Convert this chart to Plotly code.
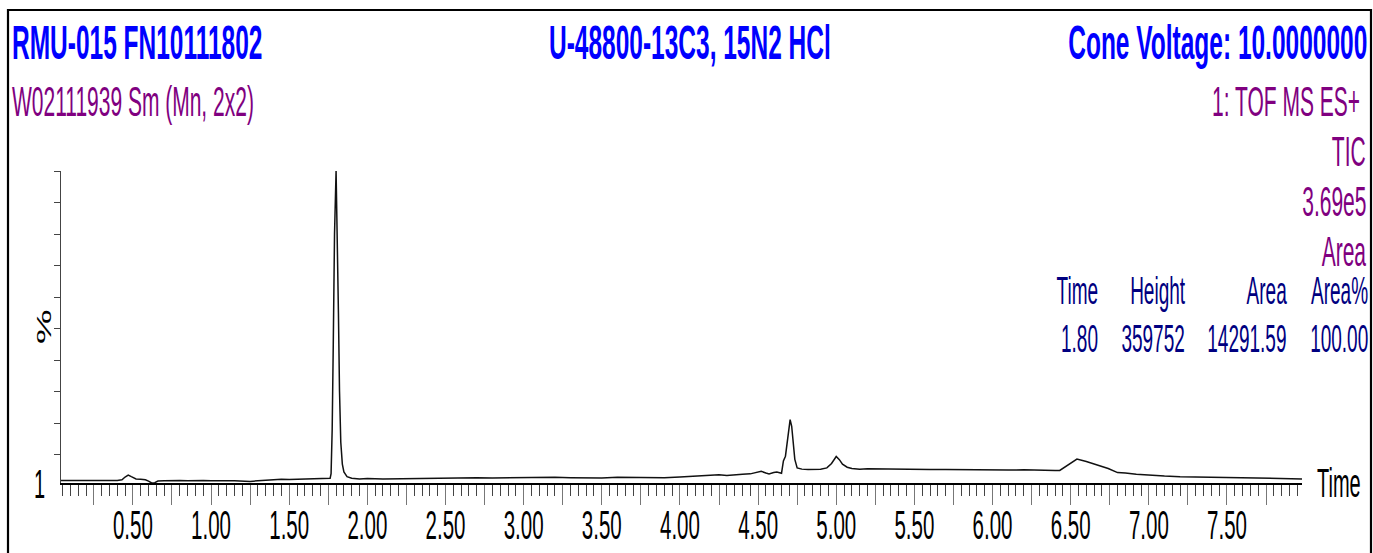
import plotly.graph_objects as go

# ---- chromatogram data (retention time in minutes, relative intensity in %) ----
time_min = [
    0.04, 0.08, 0.12, 0.16, 0.20, 0.24, 0.28, 0.32, 0.36, 0.40,
    0.43, 0.45, 0.47, 0.49, 0.52, 0.55, 0.58, 0.60, 0.62, 0.64,
    0.66, 0.70, 0.75, 0.80, 0.85, 0.90, 0.95, 1.00, 1.05, 1.10,
    1.15, 1.20, 1.25, 1.30, 1.35, 1.40, 1.45, 1.50, 1.55, 1.60,
    1.65, 1.70, 1.74, 1.762, 1.768, 1.775, 1.782, 1.790, 1.800, 1.808,
    1.815, 1.822, 1.830, 1.840, 1.850, 1.870, 1.90, 1.95, 2.00, 2.10,
    2.20, 2.30, 2.40, 2.50, 2.60, 2.70, 2.80, 2.90, 3.00, 3.10,
    3.20, 3.30, 3.40, 3.50, 3.60, 3.70, 3.80, 3.90, 4.00, 4.10,
    4.20, 4.25, 4.30, 4.35, 4.40, 4.45, 4.50, 4.52, 4.55, 4.57,
    4.60, 4.62, 4.65, 4.662, 4.675, 4.690, 4.705, 4.715, 4.725, 4.735,
    4.75, 4.78, 4.82, 4.86, 4.90, 4.94, 4.97, 5.00, 5.02, 5.04,
    5.07, 5.10, 5.15, 5.20, 5.30, 5.40, 5.50, 5.60, 5.70, 5.80,
    5.90, 6.00, 6.10, 6.20, 6.30, 6.40, 6.43, 6.54, 6.60, 6.67,
    6.74, 6.80, 6.85, 6.92, 7.00, 7.10, 7.20, 7.30, 7.40, 7.50,
    7.60, 7.70, 7.80, 7.90, 7.98,
]
intensity_pct = [
    1.8, 1.9, 1.8, 1.8, 1.9, 1.8, 1.8, 1.9, 1.8, 1.8,
    2.0, 2.9, 3.5, 3.0, 2.3, 2.2, 2.0, 1.6, 1.0, 1.1,
    1.6, 1.7, 1.8, 1.8, 1.7, 1.8, 1.8, 1.7, 1.8, 1.7,
    1.7, 1.6, 1.5, 1.7, 1.9, 2.0, 2.2, 2.1, 2.2, 2.3,
    2.2, 2.3, 2.4, 2.5, 4.0, 18.0, 45.0, 80.0, 100.0, 80.0,
    55.0, 30.0, 14.0, 7.0, 4.5, 3.0, 2.5, 2.3, 2.4, 2.3,
    2.4, 2.5, 2.5, 2.6, 2.6, 2.7, 2.6, 2.7, 2.8, 2.7,
    2.8, 2.7, 2.6, 2.6, 2.8, 2.7, 2.8, 2.7, 2.9, 3.1,
    3.3, 3.6, 3.4, 3.7, 3.8, 3.9, 4.4, 4.7, 4.2, 3.9,
    4.3, 4.5, 4.1, 8.0, 9.5, 16.0, 21.1, 19.0, 14.0, 8.5,
    5.8, 5.4, 5.3, 5.3, 5.4, 5.8, 7.2, 9.4, 8.4, 7.0,
    6.0, 5.6, 5.4, 5.5, 5.4, 5.5, 5.4, 5.3, 5.3, 5.2,
    5.3, 5.2, 5.1, 5.2, 5.0, 5.0, 5.0, 8.6, 7.8, 6.8,
    5.6, 4.3, 4.2, 3.8, 3.5, 3.2, 3.0, 2.9, 2.7, 2.6,
    2.5, 2.4, 2.4, 2.3, 2.3,
]

# ---- axis ticks ----
x_tick_vals = [0.25 * i for i in range(1, 32)]
x_tick_text = [("%.2f" % v) if i % 2 == 0 else "" for i, v in enumerate(x_tick_vals, start=1)]
y_tick_vals = [10, 20, 30, 40, 50, 60, 70, 80, 90, 100]

# ---- header / peak table text ----
sample_name = "RMU-015 FN10111802"
compound_name = "U-48800-13C3, 15N2 HCl"
cone_voltage = "Cone Voltage: 10.0000000"
file_info = "W02111939 Sm (Mn, 2x2)"
function_info = ["1: TOF MS ES+", "TIC", "3.69e5", "Area"]
table_headers = ["Time", "Height", "Area", "Area%"]
peak_time = [1.80]
peak_height = [359752]
peak_area = [14291.59]
peak_area_pct = [100.00]

FONT = "Liberation Sans, Arial, sans-serif"
BLUE = "#0000FF"
PURPLE = "#800080"
NAVY = "#000080"

W, H = 1373, 553
ML, MR, MT, MB = 61, 71, 171, 70


def px(x):
    return (x - ML) / (W - ML - MR)


def py(y):
    return (H - MB - y) / (H - MT - MB)


fig = go.Figure()
fig.add_trace(go.Scatter(
    x=time_min, y=intensity_pct, mode="lines",
    line=dict(color="#111111", width=1.5), showlegend=False, hoverinfo="skip",
))

ann = []


def label(text, x, y, xanchor, size, color, bold=False, angle=0):
    ann.append(dict(
        text=("<b>%s</b>" % text) if bold else text,
        x=px(x), y=py(y), xref="paper", yref="paper",
        xanchor=xanchor, yanchor="middle", align=xanchor,
        showarrow=False, textangle=angle,
        font=dict(family=FONT, size=size, color=color),
    ))


label(sample_name, 10, 42, "left", 49, BLUE, bold=True)
label(compound_name, 690, 42, "center", 49, BLUE, bold=True)
label(cone_voltage, 1369, 42, "right", 49, BLUE, bold=True)
label(file_info, 10, 102, "left", 42, PURPLE)
label(function_info[0], 1362, 102, "right", 42, PURPLE)
for txt, yy in zip(function_info[1:], [151, 201, 251]):
    label(txt, 1368, yy, "right", 42, PURPLE)

col_right = [1100, 1187, 1289, 1370]
row_vals = ["%.2f" % peak_time[0], "%d" % peak_height[0],
            "%.2f" % peak_area[0], "%.2f" % peak_area_pct[0]]
for hdr, val, xr in zip(table_headers, row_vals, col_right):
    label(hdr, xr, 291, "right", 38, NAVY)
    label(val, xr, 339, "right", 38, NAVY)

label("%", 44, 327, "center", 39, "black", angle=-90)
label("1", 47, 484, "right", 40, "black")
label("Time", 1315, 483, "left", 40, "black")

fig.update_layout(
    width=W, height=H,
    margin=dict(l=ML, r=MR, t=MT, b=MB, autoexpand=False),
    paper_bgcolor="white", plot_bgcolor="white",
    annotations=ann,
    shapes=[dict(type="rect", xref="paper", yref="paper",
                 x0=px(8), x1=px(1371), y0=py(600), y1=py(10),
                 line=dict(color="black", width=2.2), layer="above")],
    xaxis=dict(
        range=[0.04, 7.98], showgrid=False, zeroline=False, automargin=False,
        showline=True, linecolor="black", linewidth=1.6,
        tickmode="array", tickvals=x_tick_vals, ticktext=x_tick_text,
        ticks="outside", ticklen=20, tickwidth=1, tickcolor="#777777",
        ticklabelstandoff=-15,
        tickangle=0, tickfont=dict(family=FONT, size=41, color="black"),
        minor=dict(dtick=0.05, tick0=0, ticks="outside", ticklen=11,
                   tickwidth=1, tickcolor="#444444", showgrid=False),
    ),
    yaxis=dict(
        range=[1, 100], showgrid=False, zeroline=False, automargin=False,
        showline=True, linecolor="#444444", linewidth=1,
        tickmode="array", tickvals=y_tick_vals, showticklabels=False,
        ticks="outside", ticklen=6, tickwidth=1, tickcolor="#444444",
    ),
)

# Narrow the lettering horizontally (tall, condensed report typeface)
squeeze_js = """
var gd = document.getElementById('{plot_id}');
var svg = gd.querySelector('svg');
var k = 0.5;
gd.querySelectorAll('text').forEach(function (t) {
  if (!t.textContent.trim()) return;
  var r = t.getBoundingClientRect();
  if (!r.width) return;
  var ctm = t.getScreenCTM();
  var rotated = Math.abs(ctm.b) > 0.5;
  var a = t.getAttribute('text-anchor') || 'middle';
  var ox = r.left + r.width / 2;
  if (!rotated && a === 'start') ox = r.left;
  if (!rotated && a === 'end') ox = r.right;
  var M = t.parentNode.getScreenCTM();
  var S = svg.createSVGMatrix().translate(ox, 0).scaleNonUniform(k, 1).translate(-ox, 0);
  var X = M.inverse().multiply(S).multiply(M);
  t.transform.baseVal.insertItemBefore(svg.createSVGTransformFromMatrix(X), 0);
});
"""

fig.write_html("out.html", config={"displayModeBar": False}, post_script=squeeze_js)
